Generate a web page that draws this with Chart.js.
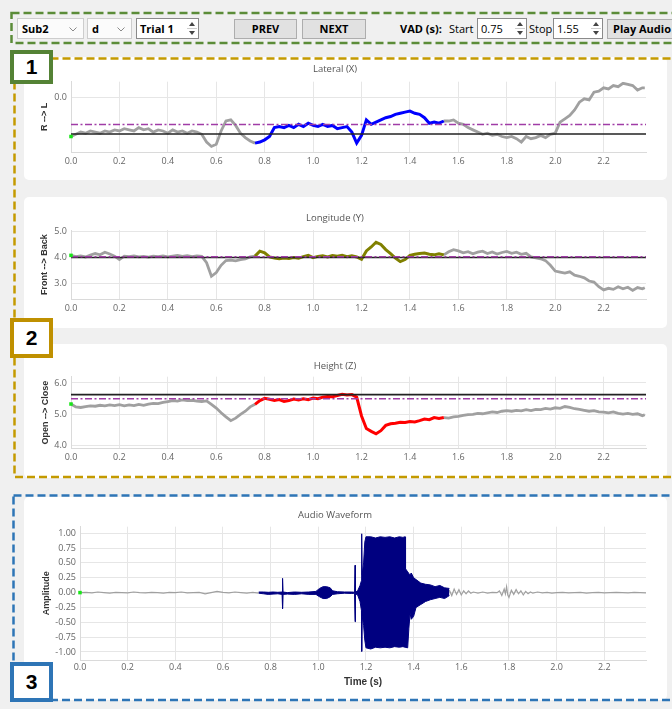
<!DOCTYPE html>
<html>
<head>
<meta charset="utf-8">
<title>Articulatory trajectories</title>
<script src="https://cdn.jsdelivr.net/npm/chart.js@4.4.1/dist/chart.umd.min.js"></script>
<style>
  body { margin: 0; width: 672px; height: 709px; background: #f0f0f0; position: relative; overflow: hidden;
         font-family: "Open Sans", sans-serif; }
  .card { position: absolute; left: 24px; width: 643px; background: #fff; border-radius: 5px; }
  .card canvas { position: absolute; left: 0; top: 0; }
  .w { position: absolute; box-sizing: border-box; top: 18px; height: 21px; font-size: 11px; line-height: 19px; color: #000; white-space: nowrap; }
  .combo { background: #fbfbfb; border: 1px solid #cdcdcd; font-weight: bold; padding-left: 4px; }
  .combo svg { position: absolute; right: 6px; top: 8px; }
  .spin { background: #fff; border: 1px solid #8a8a8a; padding-left: 3px; }
  .spin svg { position: absolute; right: 1px; top: 1px; }
  .btn { top: 19px; height: 20px; line-height: 18px; background: #e1e1e1; border: 1px solid #adadad; font-weight: bold; text-align: center; }
  .lbl { position: absolute; top: 18px; font-size: 11px; line-height: 21px; }
  .num { position: absolute; box-sizing: border-box; left: 10px; width: 43px; background: #fff;
         font: bold 21px "Liberation Sans", sans-serif; text-align: center; color: #000; }
  svg.frames { position: absolute; left: 0; top: 0; pointer-events: none; }
</style>
</head>
<body>

<!-- toolbar -->
<div class="w combo" style="left:17px;width:67px">Sub2<svg width="8" height="5"><polyline points="0.5,0.5 4,4 7.5,0.5" fill="none" stroke="#8a8a8a"/></svg></div>
<div class="w combo" style="left:87px;width:45px">d<svg width="8" height="5"><polyline points="0.5,0.5 4,4 7.5,0.5" fill="none" stroke="#8a8a8a"/></svg></div>
<div class="w spin" style="left:136px;width:63px;font-weight:bold">Trial 1<svg width="10" height="17"><path d="M5 2 L8 6 L2 6 Z M5 15 L8 11 L2 11 Z" fill="#444"/><line x1="0" y1="8.5" x2="10" y2="8.5" stroke="#ccc"/></svg></div>
<div class="w btn" style="left:234px;width:63px">PREV</div>
<div class="w btn" style="left:302px;width:64px">NEXT</div>
<div class="lbl" style="left:400px;font-weight:bold">VAD (s):</div>
<div class="lbl" style="left:449px">Start</div>
<div class="w spin" style="left:477px;width:50px">0.75<svg width="10" height="17"><path d="M5 2 L8 6 L2 6 Z M5 15 L8 11 L2 11 Z" fill="#444"/><line x1="0" y1="8.5" x2="10" y2="8.5" stroke="#ccc"/></svg></div>
<div class="lbl" style="left:529px">Stop</div>
<div class="w spin" style="left:553px;width:50px">1.55<svg width="10" height="17"><path d="M5 2 L8 6 L2 6 Z M5 15 L8 11 L2 11 Z" fill="#444"/><line x1="0" y1="8.5" x2="10" y2="8.5" stroke="#ccc"/></svg></div>
<div class="w btn" style="left:607px;width:72px;text-align:left;padding-left:5px">Play Audio</div>

<!-- plot cards -->
<div class="card" style="top:57px;height:123px"><canvas id="lateral" width="643" height="123"></canvas></div>
<div class="card" style="top:197px;height:131px"><canvas id="longitude" width="643" height="131"></canvas></div>
<div class="card" style="top:344px;height:134px"><canvas id="height" width="643" height="134"></canvas></div>
<div class="card" style="top:497px;height:203px"><canvas id="audio" width="643" height="203"></canvas></div>

<!-- dashed group frames -->
<svg class="frames" width="672" height="709">
  <rect x="11.5" y="13" width="675" height="30" fill="none" stroke="#5b8c38" stroke-width="2.5" stroke-dasharray="8 4"/>
  <rect x="14.5" y="58.5" width="665" height="418.5" fill="none" stroke="#c49a00" stroke-width="2.5" stroke-dasharray="8 4"/>
  <rect x="13.5" y="495.5" width="670" height="204.5" fill="none" stroke="#2e75b6" stroke-width="2.5" stroke-dasharray="8 4"/>
</svg>

<div class="num" style="top:50px;height:34px;line-height:26px;border:4px solid #548235">1</div>
<div class="num" style="top:318px;height:40px;line-height:32px;border:4px solid #bf9000">2</div>
<div class="num" style="top:662px;height:40px;line-height:32px;border:4px solid #2e75b6">3</div>

<script>
// Data
// ------------------------------
var vadStart = 0.75;
var vadStop = 1.55;
var xTicks = [0.0, 0.2, 0.4, 0.6, 0.8, 1.0, 1.2, 1.4, 1.6, 1.8, 2.0, 2.2];

var motionTime = [0.00, 0.02, 0.04, 0.06, 0.08, 0.10, 0.12, 0.14, 0.16, 0.18,
    0.20, 0.22, 0.24, 0.26, 0.28, 0.30, 0.32, 0.34, 0.36, 0.38,
    0.40, 0.42, 0.44, 0.46, 0.48, 0.50, 0.52, 0.54, 0.56, 0.58,
    0.60, 0.62, 0.64, 0.66, 0.68, 0.70, 0.72, 0.74, 0.76, 0.78,
    0.80, 0.82, 0.84, 0.86, 0.88, 0.90, 0.92, 0.94, 0.96, 0.98,
    1.00, 1.02, 1.04, 1.06, 1.08, 1.10, 1.12, 1.14, 1.16, 1.18,
    1.20, 1.22, 1.24, 1.26, 1.28, 1.30, 1.32, 1.34, 1.36, 1.38,
    1.40, 1.42, 1.44, 1.46, 1.48, 1.50, 1.52, 1.54, 1.56, 1.58,
    1.60, 1.62, 1.64, 1.66, 1.68, 1.70, 1.72, 1.74, 1.76, 1.78,
    1.80, 1.82, 1.84, 1.86, 1.88, 1.90, 1.92, 1.94, 1.96, 1.98,
    2.00, 2.02, 2.04, 2.06, 2.08, 2.10, 2.12, 2.14, 2.16, 2.18,
    2.20, 2.22, 2.24, 2.26, 2.28, 2.30, 2.32, 2.34, 2.36, 2.37];

var lateralX = [-0.35, -0.33, -0.31, -0.32, -0.30, -0.31, -0.32, -0.30, -0.31, -0.29,
    -0.30, -0.28, -0.29, -0.30, -0.27, -0.29, -0.28, -0.31, -0.29, -0.30,
    -0.32, -0.29, -0.31, -0.30, -0.32, -0.30, -0.31, -0.33, -0.40, -0.44,
    -0.42, -0.30, -0.21, -0.20, -0.25, -0.32, -0.36, -0.39, -0.41, -0.40,
    -0.38, -0.35, -0.27, -0.26, -0.27, -0.25, -0.27, -0.24, -0.26, -0.23,
    -0.25, -0.26, -0.24, -0.26, -0.25, -0.28, -0.27, -0.26, -0.31, -0.41,
    -0.34, -0.20, -0.24, -0.22, -0.20, -0.18, -0.17, -0.15, -0.14, -0.13,
    -0.12, -0.14, -0.15, -0.18, -0.23, -0.22, -0.23, -0.21, -0.21, -0.20,
    -0.23, -0.24, -0.27, -0.29, -0.31, -0.33, -0.32, -0.34, -0.33, -0.35,
    -0.36, -0.35, -0.37, -0.40, -0.35, -0.37, -0.36, -0.34, -0.36, -0.33,
    -0.32, -0.22, -0.19, -0.16, -0.11, -0.04, -0.01, -0.02, 0.05, 0.06,
    0.09, 0.08, 0.11, 0.10, 0.13, 0.12, 0.11, 0.07, 0.09, 0.09];

var longitudeY = [4.08, 4.03, 4.06, 4.02, 4.09, 4.15, 4.10, 4.20, 4.13, 4.05,
    3.92, 4.05, 4.03, 4.06, 4.02, 4.04, 4.01, 4.05, 4.03, 4.06,
    4.02, 4.05, 4.08, 4.04, 4.07, 4.03, 4.06, 4.04, 3.80, 3.28,
    3.42, 3.70, 3.88, 3.90, 3.87, 3.92, 3.95, 4.02, 4.05, 4.24,
    4.18, 4.02, 3.98, 3.95, 3.98, 3.96, 4.00, 3.97, 4.03, 4.08,
    3.99, 4.04, 4.06, 4.02, 4.07, 4.05, 4.08, 4.03, 4.06, 4.02,
    3.93, 4.25, 4.40, 4.58, 4.50, 4.30, 4.15, 3.98, 3.84, 3.92,
    4.08, 4.12, 4.15, 4.17, 4.12, 4.10, 4.14, 4.10, 4.22, 4.30,
    4.25, 4.18, 4.22, 4.14, 4.20, 4.24, 4.15, 4.21, 4.13, 4.19,
    4.23, 4.16, 4.20, 4.12, 4.16, 4.02, 3.98, 3.95, 3.88, 3.70,
    3.48, 3.44, 3.40, 3.45, 3.32, 3.28, 3.22, 3.10, 3.06, 2.88,
    2.76, 2.82, 2.78, 2.88, 2.80, 2.86, 2.74, 2.85, 2.80, 2.84];

var heightZ = [5.33, 5.24, 5.22, 5.25, 5.27, 5.26, 5.29, 5.27, 5.30, 5.28,
    5.31, 5.27, 5.30, 5.28, 5.32, 5.29, 5.33, 5.35, 5.34, 5.38,
    5.41, 5.44, 5.42, 5.46, 5.44, 5.45, 5.42, 5.41, 5.43, 5.32,
    5.20, 5.05, 4.92, 4.80, 4.88, 5.00, 5.10, 5.24, 5.32, 5.44,
    5.51, 5.48, 5.44, 5.47, 5.41, 5.44, 5.49, 5.46, 5.50, 5.47,
    5.52, 5.50, 5.55, 5.57, 5.56, 5.60, 5.64, 5.62, 5.63, 5.55,
    4.95, 4.55, 4.46, 4.38, 4.48, 4.65, 4.70, 4.72, 4.75, 4.74,
    4.77, 4.76, 4.80, 4.85, 4.83, 4.90, 4.87, 4.90, 4.88, 4.92,
    4.94, 4.97, 4.99, 5.00, 5.03, 5.02, 5.05, 5.08, 5.06, 5.10,
    5.12, 5.10, 5.13, 5.11, 5.15, 5.12, 5.16, 5.15, 5.19, 5.17,
    5.21, 5.19, 5.25, 5.22, 5.18, 5.16, 5.13, 5.10, 5.12, 5.08,
    5.07, 5.05, 5.08, 5.03, 5.01, 5.03, 5.00, 5.02, 4.96, 4.99];

// rest position (black) and mean (dash-dot) reference levels
var lateralRest = -0.327, lateralMean = -0.242;
var longitudeRest = 4.0, longitudeMean = 4.03;
var heightRest = 5.63, heightMean = 5.5;

var lateralTicks = [0.0];
var longitudeTicks = [3.0, 4.0, 5.0];
var heightTicks = [4.0, 5.0, 6.0];
var audioTicks = [-1.0, -0.75, -0.5, -0.25, 0.0, 0.25, 0.5, 0.75, 1.0];

// audio: quiet parts as a line, voiced part as upper/lower envelope
var audioPreT = [0.000, 0.025, 0.050, 0.075, 0.100, 0.125, 0.150, 0.175, 0.200, 0.225,
    0.250, 0.275, 0.300, 0.325, 0.350, 0.375, 0.400, 0.425, 0.450, 0.475,
    0.500, 0.525, 0.550, 0.575, 0.600, 0.625, 0.650, 0.675, 0.700, 0.725, 0.750];
var audioPreA = [0.000, 0.005, -0.005, 0.010, 0.000, -0.010, 0.005, 0.000, -0.005, 0.010,
    0.000, -0.005, 0.005, 0.000, -0.010, 0.005, 0.000, 0.010, -0.005, 0.000,
    0.005, -0.020, 0.000, 0.020, 0.005, -0.005, 0.010, 0.000, -0.010, 0.005, -0.010];

var audioPostT = [1.55, 1.56, 1.57, 1.58, 1.59, 1.60, 1.61, 1.62, 1.63, 1.64,
    1.65, 1.67, 1.69, 1.71, 1.73, 1.75, 1.76, 1.77, 1.78, 1.785,
    1.79, 1.795, 1.80, 1.81, 1.82, 1.83, 1.84, 1.85, 1.86, 1.87,
    1.88, 1.89, 1.90, 1.92, 1.94, 1.96, 1.98, 2.00, 2.025, 2.05,
    2.075, 2.10, 2.125, 2.15, 2.175, 2.20, 2.225, 2.25, 2.275, 2.30,
    2.325, 2.35, 2.375];
var audioPostA = [0.04, -0.05, 0.06, -0.03, 0.05, -0.04, 0.03, -0.02, 0.03, -0.01,
    0.01, -0.01, 0.01, -0.01, 0.005, 0.0, 0.03, -0.05, 0.06, -0.02,
    0.10, -0.04, -0.08, 0.04, -0.03, 0.05, -0.02, 0.03, -0.04, 0.02,
    -0.02, 0.01, -0.01, 0.01, -0.005, 0.005, -0.01, 0.0, 0.005, -0.005,
    0.0, 0.005, -0.01, 0.0, 0.005, -0.005, 0.0, 0.005, 0.0, -0.005,
    0.005, 0.0, -0.005];

var speechT = [0.750, 0.770, 0.790, 0.810, 0.830, 0.848, 0.850, 0.852, 0.870, 0.900,
    0.930, 0.960, 0.990, 1.005, 1.020, 1.035, 1.050, 1.060, 1.080, 1.110,
    1.140, 1.152, 1.154, 1.156, 1.165, 1.175, 1.181, 1.182, 1.184, 1.190,
    1.195, 1.200, 1.220, 1.240, 1.260, 1.280, 1.300, 1.320, 1.340, 1.355,
    1.364, 1.366, 1.375, 1.380, 1.385, 1.390, 1.400, 1.410, 1.430, 1.450,
    1.470, 1.490, 1.510, 1.530, 1.550];
var speechHi = [0.01, 0.01, 0.005, 0.01, 0.005, 0.01, 0.24, 0.01, 0.0, 0.01,
    0.005, 0.01, 0.02, 0.07, 0.10, 0.10, 0.08, 0.03, 0.015, 0.01,
    0.01, 0.005, 0.46, 0.01, 0.03, 0.12, 0.20, 0.99, 0.30, 0.50,
    0.85, 0.94, 0.94, 0.92, 0.94, 0.93, 0.94, 0.92, 0.94, 0.93,
    0.94, 0.40, 0.35, 0.32, 0.30, 0.33, 0.25, 0.22, 0.16, 0.14,
    0.13, 0.10, 0.12, 0.08, 0.07];
var speechLo = [-0.01, -0.02, -0.03, -0.025, -0.02, -0.03, -0.27, -0.03, -0.025, -0.03,
    -0.02, -0.03, -0.03, -0.07, -0.10, -0.10, -0.07, -0.03, -0.02, -0.01,
    -0.015, -0.01, -0.49, -0.02, -0.04, -0.15, -0.30, -0.99, -0.40, -0.55,
    -0.80, -0.93, -0.95, -0.92, -0.93, -0.92, -0.93, -0.91, -0.92, -0.91,
    -0.92, -0.92, -0.93, -0.60, -0.35, -0.45, -0.40, -0.25, -0.20, -0.15,
    -0.12, -0.10, -0.08, -0.10, -0.05];

// Helpers
// ------------------------------
function xy(t, v, from, to) {
    var out = [];
    for (var i = 0; i < t.length; i++) {
        if (t[i] >= from && t[i] <= to) out.push({x: t[i], y: v[i]});
    }
    return out;
}

function setTicks(list) {
    return function (scale) {
        scale.ticks = list.map(function (v) { return {value: v}; });
    };
}

var tickFont = {family: 'Open Sans', size: 9};
var gridColor = '#e6e6e6';

function options(o) {
    return {
        responsive: false,
        animation: false,
        events: [],
        layout: {padding: {left: 0, right: 21, top: 0, bottom: 0}},
        plugins: {
            legend: {display: false},
            tooltip: {enabled: false},
            title: {
                display: true, text: o.title, color: '#555',
                font: {family: 'Open Sans', size: 9.5, weight: 'normal'},
                padding: {top: o.titleTop, bottom: o.titleBottom}
            }
        },
        scales: {
            x: {
                type: 'linear', min: 0, max: 2.375,
                afterBuildTicks: setTicks(xTicks),
                afterFit: function (s) { s.height = o.xHeight; },
                grid: {color: gridColor, drawTicks: false},
                border: {color: '#dadada'},
                ticks: {padding: o.xPad, color: '#666', font: tickFont, maxRotation: 0, autoSkip: false,
                        callback: function (v) { return v.toFixed(1); }},
                title: o.xTitle ? {display: true, text: o.xTitle, color: '#333',
                        font: {family: 'Liberation Sans', size: 10, weight: 'bold'}, padding: {top: 0, bottom: 12}}
                        : {display: false}
            },
            y: {
                min: o.yMin, max: o.yMax,
                afterBuildTicks: setTicks(o.yTicks),
                afterFit: function (s) { s.width = o.yWidth; },
                grid: {color: gridColor, drawTicks: false},
                border: {color: '#dadada'},
                ticks: {padding: 4, color: '#666', font: tickFont, autoSkip: false,
                        callback: function (v) { return v.toFixed(o.digits); }},
                title: {display: true, text: o.yTitle, color: '#333',
                        font: {family: 'Liberation Sans', size: 9, weight: 'bold'},
                        padding: {top: o.yTitlePad, bottom: 0}}
            }
        }
    };
}

function motionChart(id, v, color, rest, mean, o) {
    var t = motionTime;
    var a = t.filter(function (x) { return x >= vadStart; })[0];
    var b = t.filter(function (x) { return x <= vadStop; }).pop();
    var datasets = [
        {data: [{x: 0, y: v[0]}], showLine: false, pointStyle: 'rect', pointRadius: 2.5,
         pointBackgroundColor: '#19e619', pointBorderWidth: 0, clip: false},
        {data: [{x: 0, y: mean}, {x: 2.375, y: mean}], borderColor: '#a03ca6', borderWidth: 1.5,
         borderDash: [7, 2.5, 2, 2.5], pointRadius: 0},
        {data: [{x: 0, y: rest}, {x: 2.375, y: rest}], borderColor: '#222', borderWidth: 1.6, pointRadius: 0},
        {data: xy(t, v, a, b), borderColor: color, borderWidth: 3, pointRadius: 0},
        {data: xy(t, v, -1, a), borderColor: '#a0a0a0', borderWidth: 2.8, pointRadius: 0},
        {data: xy(t, v, b, 99), borderColor: '#a0a0a0', borderWidth: 2.8, pointRadius: 0}
    ];
    return new Chart(document.getElementById(id), {
        type: 'line',
        data: {datasets: datasets},
        options: options(o)
    });
}

// Charts
// ------------------------------
window.addEventListener('load', function () {
    motionChart('lateral', lateralX, '#0000ff', lateralRest, lateralMean, {
        title: 'Lateral (X)', titleTop: 6.3, titleBottom: 7, xHeight: 28, xPad: 4,
        yMin: -0.49, yMax: 0.145, yTicks: lateralTicks, digits: 1, yWidth: 47,
        yTitle: 'R --> L', yTitlePad: 15.6
    });

    motionChart('longitude', longitudeY, '#808000', longitudeRest, longitudeMean, {
        title: 'Longitude (Y)', titleTop: 15.6, titleBottom: 6, xHeight: 28.7, xPad: 4,
        yMin: 2.4, yMax: 5.05, yTicks: longitudeTicks, digits: 1, yWidth: 47,
        yTitle: 'Front --> Back', yTitlePad: 15.6
    });

    motionChart('height', heightZ, '#ff0000', heightRest, heightMean, {
        title: 'Height (Z)', titleTop: 16.3, titleBottom: 5, xHeight: 29.7, xPad: 3.5,
        yMin: 3.92, yMax: 6.2, yTicks: heightTicks, digits: 1, yWidth: 47,
        yTitle: 'Open --> Close', yTitlePad: 16.5
    });

    var audioOpts = options({
        title: 'Audio Waveform', titleTop: 13, titleBottom: 5.3, xHeight: 40, xPad: 1.6,
        xTitle: 'Time (s)',
        yMin: -1.135, yMax: 1.11, yTicks: audioTicks, digits: 2, yWidth: 56,
        yTitle: 'Amplitude', yTitlePad: 17.3
    });
    new Chart(document.getElementById('audio'), {
        type: 'line',
        data: {
            datasets: [
                {data: [{x: 0, y: audioPreA[0]}], showLine: false, pointStyle: 'rect', pointRadius: 2.5,
                 pointBackgroundColor: '#19e619', pointBorderWidth: 0, clip: false},
                {data: xy(speechT, speechHi, 0, 9), borderColor: '#000080', borderWidth: 1, pointRadius: 0, fill: false},
                {data: xy(speechT, speechLo, 0, 9), borderColor: '#000080', borderWidth: 1, pointRadius: 0,
                 fill: '-1', backgroundColor: '#000080'},
                {data: xy(audioPreT, audioPreA, 0, 9), borderColor: '#a0a0a0', borderWidth: 1.2, pointRadius: 0},
                {data: xy(audioPostT, audioPostA, 0, 9), borderColor: '#a0a0a0', borderWidth: 1.2, pointRadius: 0}
            ]
        },
        options: audioOpts
    });
});
</script>
</body>
</html>
